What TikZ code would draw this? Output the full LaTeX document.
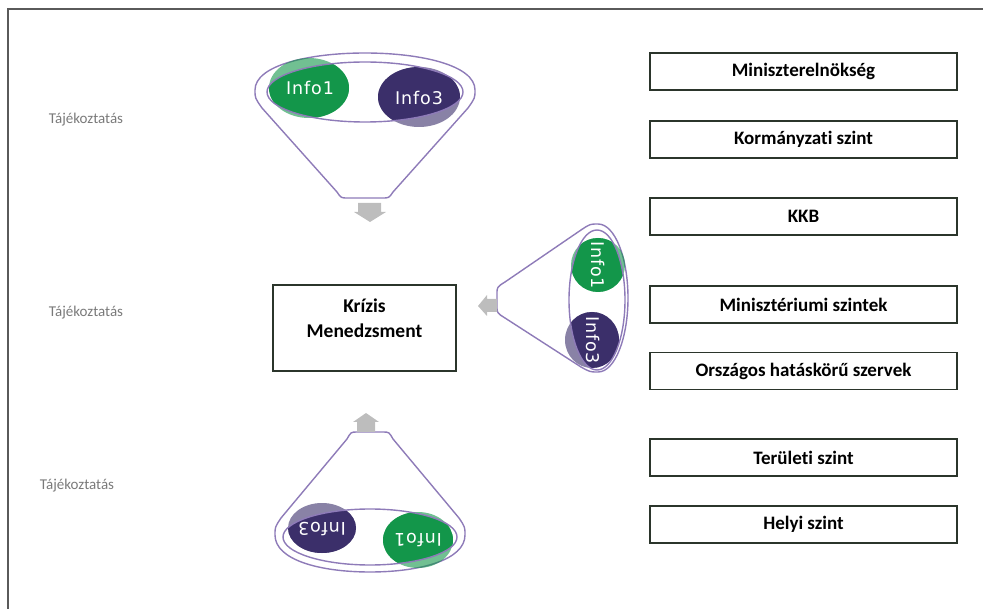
\documentclass[tikz,border=0pt]{standalone}
\usepackage{fontspec}
\setmainfont{Carlito}[Ligatures=NoCommon]
\newfontfamily\infofont{DejaVu Sans}[LetterSpace=5]
\definecolor{framec}{HTML}{5A5A5A}
\definecolor{boxc}{HTML}{2B352B}
\definecolor{func}{HTML}{8E7BB8}
\definecolor{infog}{HTML}{13964A}
\definecolor{infop}{HTML}{3B2F6A}
\definecolor{arrc}{HTML}{BDBDBD}
\definecolor{labc}{HTML}{7A7A7A}
\tikzset{
  lvl/.style={draw=boxc, line width=1.8pt, minimum width=307pt, minimum height=37pt, inner sep=0pt,
    font=\bfseries\fontsize{19}{22}\selectfont, text=black},
  kmbox/.style={draw=boxc, line width=1.8pt, minimum width=183pt, minimum height=86pt, inner sep=0pt},
  lab/.style={text=labc, font=\fontsize{15}{18}\selectfont},
  funnel/.style={draw=func, line width=1.4pt},
  ring/.style={draw=func, line width=1.4pt},
  infotxt/.style={text=white, font=\infofont\fontsize{17.5}{20}\selectfont, inner sep=0pt},
  blockarr/.style={fill=arrc, draw=none}
}
\begin{document}
\begin{tikzpicture}[x=1pt,y=-1pt]
\useasboundingbox (0,0) rectangle (983,609);
% frame
\draw[framec, line width=1.6pt] (8,609) -- (8,9) -- (983,9);

% right-hand level boxes
\node[lvl] (b1) at (803.5,71.5) {Miniszterelnökség};
\node[lvl] (b2) at (803.5,139.5) {Kormányzati szint};
\node[lvl] (b3) at (803.5,216.5) {KKB};
\node[lvl] (b4) at (803.5,304.5) {Minisztériumi szintek};
\node[lvl] (b5) at (803.5,371) {Országos hatáskörű szervek};
\node[lvl] (b6) at (803.5,457.5) {Területi szint};
\node[lvl] (b7) at (803.5,524.5) {Helyi szint};

% crisis management box
\node[kmbox] (km) at (364.5,328) {};
\node[font=\bfseries\fontsize{19.5}{25}\selectfont, align=center, inner sep=0pt] (kmt) at (364.5,318) {Krízis\\Menedzsment};

% labels
\node[lab] (l1) at (86,120) {Tájékoztatás};
\node[lab] (l2) at (86,313) {Tájékoztatás};
\node[lab] (l3) at (77,486) {Tájékoztatás};

% ---------- top funnel ----------
\draw[funnel] (255,90) .. controls (255,65) and (310,53) .. (365,53)
  .. controls (420,53) and (475,65) .. (475,90)
  .. controls (475,98) .. (468,108) -- (393,192)
  .. controls (389,198) .. (382,198) -- (348,198)
  .. controls (341,198) .. (337,192) -- (262,108)
  .. controls (255,98) .. (255,90);
\fill[infog, opacity=0.6] (309,88) ellipse [x radius=40, y radius=30];
\fill[infop, opacity=0.6] (419,97) ellipse [x radius=41, y radius=30];
\begin{scope}
  \clip (365,92) ellipse [x radius=98, y radius=30];
  \fill[infog] (309,88) ellipse [x radius=40, y radius=30];
  \fill[infop] (419,97) ellipse [x radius=41, y radius=30];
\end{scope}
\draw[ring] (365,92) ellipse [x radius=98, y radius=30];
\node[infotxt] (t1) at (310,88) {Info1};
\node[infotxt] (t3) at (419,98) {Info3};
\fill[blockarr] (358,203) -- (381,203) -- (381,212) -- (386,212) -- (370,222) -- (354,212) -- (358,212) -- cycle;

% ---------- right funnel ----------
\draw[funnel] (598,224) .. controls (615,224) and (628,258) .. (628,298)
  .. controls (628,338) and (615,372) .. (598,372)
  .. controls (590,372) .. (581,367) -- (505,318)
  .. controls (497,313) .. (497,306) -- (497,294)
  .. controls (497,287) .. (505,282) -- (581,230)
  .. controls (590,224) .. (598,224);
\fill[infog, opacity=0.6] (598,265) ellipse [x radius=27, y radius=27];
\fill[infop, opacity=0.6] (592,340) ellipse [x radius=27, y radius=28];
\begin{scope}
  \clip (597,300) ellipse [x radius=28, y radius=70];
  \fill[infog] (598,265) ellipse [x radius=27, y radius=27];
  \fill[infop] (592,340) ellipse [x radius=27, y radius=28];
\end{scope}
\draw[ring] (597,300) ellipse [x radius=28, y radius=70];
\node[infotxt, rotate=-90] (r1) at (598,265) {Info1};
\node[infotxt, rotate=-90] (r3) at (593,340) {Info3};
\fill[blockarr] (497,299) -- (487,299) -- (487,295) -- (478,306) -- (487,316) -- (487,312) -- (497,312) -- cycle;

% ---------- bottom funnel ----------
\draw[funnel] (275,535) .. controls (275,560) and (320,572) .. (370,572)
  .. controls (420,572) and (465,560) .. (465,535)
  .. controls (465,527) .. (459,518) -- (393,439)
  .. controls (389,432) .. (383,432) -- (357,432)
  .. controls (351,432) .. (347,439) -- (281,518)
  .. controls (275,527) .. (275,535);
\fill[infop, opacity=0.6] (322,528) ellipse [x radius=34, y radius=25];
\fill[infog, opacity=0.6] (418,540) ellipse [x radius=35, y radius=28];
\begin{scope}
  \clip (370,537) ellipse [x radius=87, y radius=28];
  \fill[infop] (322,528) ellipse [x radius=34, y radius=25];
  \fill[infog] (418,540) ellipse [x radius=35, y radius=28];
\end{scope}
\draw[ring] (370,537) ellipse [x radius=87, y radius=28];
\node[infotxt, rotate=180] (u3) at (322,529) {Info3};
\node[infotxt, rotate=180] (u1) at (418,540) {Info1};
\fill[blockarr] (357,432) -- (375,432) -- (375,422) -- (379,422) -- (366,413) -- (353,422) -- (357,422) -- cycle;
\end{tikzpicture}
\end{document}
